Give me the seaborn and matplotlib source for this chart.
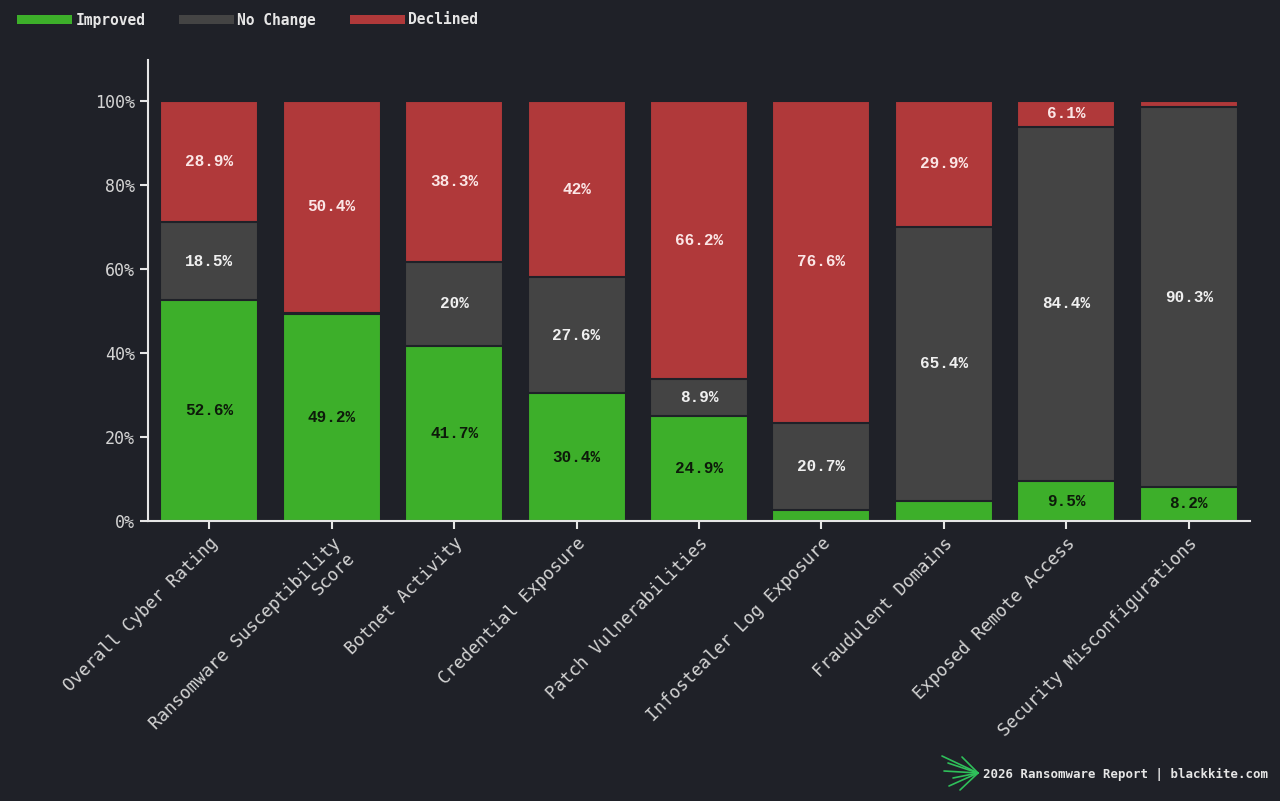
import matplotlib
matplotlib.use("Agg")
import matplotlib.pyplot as plt
from matplotlib.patches import Patch
from matplotlib.lines import Line2D
import numpy as np
import seaborn as sns

# data (percent of companies)
categories = ["Overall Cyber Rating", "Ransomware Susceptibility\nScore",
              "Botnet Activity", "Credential Exposure", "Patch Vulnerabilities",
              "Infostealer Log Exposure", "Fraudulent Domains",
              "Exposed Remote Access", "Security Misconfigurations"]
improved = [52.6, 49.2, 41.7, 30.4, 24.9, 2.7, 4.7, 9.5, 8.2]
no_change = [18.5, 0.4, 20.0, 27.6, 8.9, 20.7, 65.4, 84.4, 90.3]
declined = [28.9, 50.4, 38.3, 42.0, 66.2, 76.6, 29.9, 6.1, 1.5]
series_names = ["Improved", "No Change", "Declined"]

bg = "#1f2128"
c_green = "#3daf2a"
c_gray = "#444444"
c_red = "#b0393a"
fg = "#e6e6e6"

sns.set_style("dark")
plt.rcParams["font.family"] = ["DejaVu Sans Mono", "DejaVu Sans"]

fig = plt.figure(figsize=(12.8, 8.01), dpi=100, facecolor=bg)
ax = fig.add_axes([148 / 1280, 1 - 521 / 801, (1250 - 148) / 1280, (521 - 60) / 801])
ax.set_facecolor(bg)

imp = np.array(improved)
noc = np.array(no_change)
dec = np.array(declined)
tops = [imp + noc + dec, imp + noc, imp]
colors = [c_red, c_gray, c_green]

# stacked look by overlaying cumulative totals, back to front
for h, col in zip(tops, colors):
    sns.barplot(x=categories, y=h, color=col, saturation=1, width=0.8,
                edgecolor=bg, linewidth=1.5, ax=ax)

# segment labels
text_cols = ["#0d1a0a", "#f0f0f0", "#fbe6e6"]
for i in range(len(categories)):
    base = 0.0
    for val, tc in zip([imp[i], noc[i], dec[i]], text_cols):
        if val >= 5:
            lab = f"{val:g}%"
            ax.text(i, base + val / 2, lab, ha="center", va="center",
                    color=tc, fontsize=11.5, fontweight="bold",
                    family=["Liberation Mono", "DejaVu Sans Mono"])
        base += val

ax.set_xlim(-0.5, len(categories) - 0.5)
ax.set_ylim(0, 109.8)
ax.set_yticks([0, 20, 40, 60, 80, 100])
ax.set_yticklabels([f"{t}%" for t in [0, 20, 40, 60, 80, 100]])
ax.grid(False)
for s in ["top", "right"]:
    ax.spines[s].set_visible(False)
for s in ["left", "bottom"]:
    ax.spines[s].set_visible(True)
    ax.spines[s].set_color(fg)
    ax.spines[s].set_linewidth(1.5)
ax.tick_params(axis="y", colors=fg, length=6, width=1.5, labelsize=12,
               labelcolor="#d4d4d4", left=True)
ax.tick_params(axis="x", colors=fg, length=6, width=1.5, labelsize=12.5,
               labelcolor="#d4d4d4", bottom=True)
ax.set_xticks(range(len(categories)))
ax.set_xticklabels(categories, rotation=45, ha="right", va="top",
                   rotation_mode="anchor", multialignment="right")
ax.set_xlabel("")
ax.set_ylabel("")

# legend along the top edge
handles = [Patch(facecolor=c, edgecolor="none") for c in [c_green, c_gray, c_red]]
leg = fig.legend(handles, series_names, loc="center left",
                 bbox_to_anchor=(17 / 1280, 1 - 20 / 801), ncol=3,
                 frameon=False, borderpad=0, borderaxespad=0,
                 handlelength=3.8, handleheight=0.55, handletextpad=0.2,
                 columnspacing=2.3, prop={"size": 10.5, "weight": "bold"})
for t in leg.get_texts():
    t.set_color(fg)

# footer with a small fan-shaped mark
fig.text(1268 / 1280, 1 - 774 / 801, "2026 Ransomware Report | blackkite.com",
         ha="right", va="center", color=fg, fontsize=8.9, fontweight="bold")
ox, oy = 978 / 1280, 1 - 773 / 801
ends = [(942, 756), (948, 763), (944, 771), (953, 778), (949, 786), (960, 790), (962, 757)]
for ex, ey in ends:
    fig.add_artist(Line2D([ox, ex / 1280], [oy, 1 - ey / 801], color="#2fbf5a",
                          linewidth=1.2, transform=fig.transFigure))

fig.savefig("out.png", dpi=100, facecolor=bg)
